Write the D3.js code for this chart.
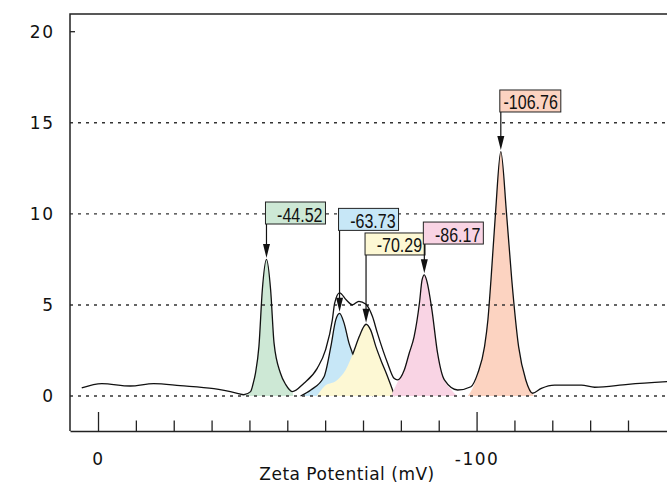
<!DOCTYPE html>
<html><head><meta charset="utf-8">
<script src="https://cdn.jsdelivr.net/npm/d3@7/dist/d3.min.js"></script>
<style>body{margin:0;background:#fff}svg{display:block}</style>
</head><body><svg id="c" width="667" height="483"></svg>
<script>
// ---- data (zeta potential mV, intensity) ----
const envelope = [[4.3,0.44],[-1.0,0.68],[-8.5,0.55],[-14.7,0.68],[-21.7,0.57],[-30.6,0.40],[-36.8,0.15],[-38.5,0.07],[-40.3,0.24],[-41.0,0.70],[-41.6,1.26],[-42.5,2.71],[-43.4,5.82],[-44.5,7.5],[-45.6,5.82],[-46.5,2.90],[-48.2,1.25],[-49.6,0.62],[-51.3,0.24],[-54.4,0.70],[-57.9,1.52],[-60.1,2.53],[-61.9,4.18],[-62.5,5.09],[-63.8,5.66],[-65.6,5.27],[-67.2,5.0],[-68.9,5.2],[-70.7,5.05],[-72.5,4.36],[-73.8,3.45],[-76.5,1.80],[-78.2,0.97],[-79.1,0.88],[-80.9,1.43],[-82.2,2.35],[-83.5,3.26],[-84.9,5.09],[-85.6,6.37],[-86.2,6.65],[-86.9,6.28],[-88.2,4.73],[-89.7,2.35],[-91.5,0.88],[-95.0,0.33],[-98.5,0.51],[-100.3,1.24],[-102.1,2.71],[-103.0,4.2],[-103.8,6.37],[-105.0,10.05],[-106.4,13.42],[-107.9,10.05],[-109.3,6.37],[-111.1,2.71],[-113.0,0.88],[-114.8,0.15],[-117.1,0.42],[-120.6,0.60],[-127.7,0.60],[-131.2,0.48],[-140.0,0.64],[-150.6,0.79]];

const peakA = [[-38.5,0],[-40.3,0.24],[-41.0,0.70],[-41.6,1.26],[-42.5,2.71],[-43.4,5.82],[-44.5,7.5],[-45.6,5.82],[-46.5,2.90],[-48.2,1.25],[-49.6,0.62],[-51.3,0.24],[-51.6,0]];
const peakB = [[-53.5,0],[-56.2,0.33],[-59.7,1.06],[-61.5,2.71],[-62.8,4.18],[-63.8,4.54],[-65.0,4.0],[-66.3,2.9],[-67.2,2.35],[-68.9,1.15],[-70.7,0.33],[-72.6,0]];
const peakC = [[-57.8,0],[-59.7,0.51],[-63.2,0.88],[-65.4,1.43],[-67.2,2.25],[-69.0,3.26],[-70.2,3.81],[-70.8,3.94],[-72.0,3.63],[-73.4,2.71],[-74.7,1.98],[-76.5,1.06],[-77.8,0.33],[-78.4,0]];
const peakD = [[-77.4,0],[-79.1,0.75],[-80.9,1.43],[-82.2,2.35],[-83.5,3.26],[-84.9,5.09],[-85.6,6.37],[-86.2,6.65],[-86.9,6.28],[-88.2,4.73],[-89.7,2.35],[-91.5,0.88],[-93.3,0.35],[-94.9,0]];
const peakE = [[-97.7,0],[-99.5,0.7],[-100.3,1.24],[-102.1,2.71],[-103.0,4.2],[-103.8,6.37],[-105.0,10.05],[-106.4,13.42],[-107.9,10.05],[-109.3,6.37],[-111.1,2.71],[-113.0,0.88],[-114.8,0.15],[-115.1,0]];

const peakColors = ["#cde8d5","#c7e7f7","#fdf8d4","#f9d4e4","#fcd3c1"];
const labelTexts = ["-44.52","-63.73","-70.29","-86.17","-106.76"];
const labelLevels = [10.65,10.3,8.95,9.55,16.8];

const xTicks = d3.range(0,-141,-10);
const xMajor = [0,-100];
const yTicks = [0,5,10,15,20];
const yGrid = [0,5,10,15];
const xTitle = "Zeta Potential (mV)";

// ---- drawing ----
const svg = d3.select("#c");
const x = d3.scaleLinear().domain([7.4,-150.3]).range([70,667]);
const y = d3.scaleLinear().domain([0,20]).range([396,31.7]);
const L = 70, R = 667, T = 14, B = 431;
const font = "'DejaVu Sans', sans-serif";

const area = d3.area().x(d=>x(d[0])).y0(y(0)).y1(d=>y(d[1])).curve(d3.curveMonotoneX);
const line = d3.line().x(d=>x(d[0])).y(d=>y(d[1])).curve(d3.curveMonotoneX);

const defs = svg.append("defs");
const peaks = [peakA,peakB,peakC,peakD,peakE];

// mask: hide yellow outline inside blue area
const m = defs.append("mask").attr("id","mB").attr("maskUnits","userSpaceOnUse");
m.append("rect").attr("x",0).attr("y",0).attr("width",667).attr("height",483).attr("fill","#fff");
m.append("path").attr("d",area(peakB)).attr("fill","#000");

const gF = svg.append("g");
peaks.forEach((p,i)=>{
  gF.append("path").attr("d",area(p)).attr("fill",peakColors[i]);
  if(i===1){
    gF.append("path").attr("d",line(p)).attr("fill","none").attr("stroke","#111").attr("stroke-width",1.3);
  }
  if(i===2){
    gF.append("path").attr("d",line(p)).attr("fill","none").attr("stroke","#111").attr("stroke-width",1.3).attr("mask","url(#mB)");
  }
});

// gridlines
svg.append("g").selectAll("line").data(yGrid).join("line")
  .attr("x1",L).attr("x2",R).attr("y1",d=>y(d)).attr("y2",d=>y(d))
  .attr("stroke","#333").attr("stroke-width",1.4).attr("stroke-dasharray","3,5");

// envelope
svg.append("path").attr("d",line(envelope)).attr("fill","none").attr("stroke","#111").attr("stroke-width",1.3);

// frame
svg.append("path").attr("d",`M${R},${T}H${L}V${B}`).attr("fill","none").attr("stroke","#222").attr("stroke-width",1.5);
svg.append("line").attr("x1",L).attr("x2",L+5).attr("y1",y(20)).attr("y2",y(20)).attr("stroke","#222").attr("stroke-width",1.3);

// y axis labels
const ya = svg.append("g").attr("transform",`translate(${L},0)`)
  .call(d3.axisLeft(y).tickValues(yTicks).tickSize(0).tickPadding(15.5).tickFormat(d=>String(d)));
ya.select(".domain").remove();
ya.selectAll("text").attr("font-family",font).attr("font-size",17).attr("letter-spacing",1.5).attr("fill","#111");

// x axis
const xa = svg.append("g").attr("transform",`translate(0,${B})`)
  .call(d3.axisBottom(x).tickValues(xTicks).tickSizeInner(-10.5).tickSizeOuter(0).tickPadding(22)
     .tickFormat(d=> xMajor.includes(d) ? String(d) : ""));
xa.select(".domain").attr("stroke","#222").attr("stroke-width",1.5);
xa.selectAll(".tick line").attr("stroke","#222").attr("stroke-width",1.3)
  .attr("y2",d=> xMajor.includes(d) ? -19 : -10.5);
xa.selectAll("text").attr("font-family",font).attr("font-size",17).attr("letter-spacing",1.5).attr("fill","#111");

svg.append("text").attr("x",347).attr("y",480).attr("text-anchor","middle")
  .attr("font-family",font).attr("font-size",17).attr("letter-spacing",0.5).attr("fill","#111").text(xTitle);

// labels with arrows
const gL = svg.append("g");
peaks.forEach((p,i)=>{
  const top = p.reduce((a,b)=> b[1]>a[1]?b:a);
  const ax = x(top[0]);
  const tipY = y(top[1]) - 1.5;
  const by = y(labelLevels[i]);
  const bw = labelTexts[i].length > 6 ? 61 : 60, bh = 22;
  gL.append("line").attr("x1",ax).attr("x2",ax).attr("y1",by+bh).attr("y2",tipY-12)
    .attr("stroke","#111").attr("stroke-width",1.2);
  gL.append("path").attr("d",`M${ax-3.5},${tipY-14}L${ax+3.5},${tipY-14}L${ax},${tipY}Z`).attr("fill","#111");
  gL.append("rect").attr("x",ax-1).attr("y",by).attr("width",bw).attr("height",bh)
    .attr("fill",peakColors[i]).attr("stroke","#222").attr("stroke-width",1);
  gL.append("text").attr("transform",`translate(${ax-1+bw-3},${by+19.5}) scale(0.8,1)`)
    .attr("text-anchor","end").attr("font-family","'Liberation Sans', Arial, sans-serif")
    .attr("font-size",20).attr("fill","#111").text(labelTexts[i]);
});
</script></body></html>
